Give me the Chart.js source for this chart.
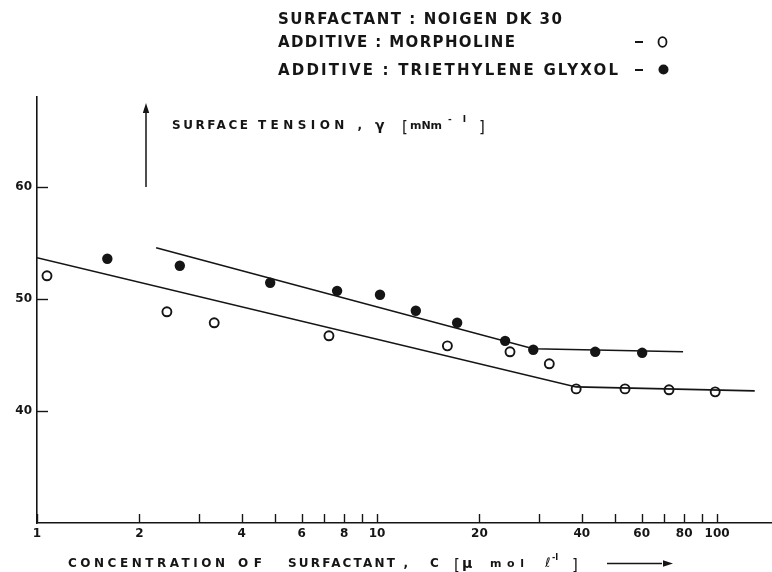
<!DOCTYPE html>
<html>
<head>
<meta charset="utf-8">
<title>Surface tension vs concentration</title>
<script src="https://cdn.jsdelivr.net/npm/chart.js@4.4.1/dist/chart.umd.min.js"></script>
<style>
  html, body { margin: 0; padding: 0; background: #fff; overflow: hidden; }
  #wrap { width: 772px; height: 572px; position: relative; }
  canvas { display: block; }
</style>
</head>
<body>
<div id="wrap"><canvas id="chart"></canvas></div>
<script>
// -- data ----------------------------------------------------------------
// concentration C [umol/l], surface tension gamma [mN/m]
const morphC   = [1.07, 2.41, 3.32, 7.22, 16.1, 24.6, 32.1, 38.5, 53.6, 72.2, 98.7];
const morphG   = [52.05, 48.84, 47.86, 46.70, 45.80, 45.27, 44.20, 41.96, 41.96, 41.88, 41.70];
const triC     = [1.61, 2.63, 4.85, 7.63, 10.2, 13.0, 17.2, 23.8, 28.8, 43.8, 60.2];
const triG     = [53.57, 52.95, 51.43, 50.71, 50.36, 48.93, 47.86, 46.25, 45.45, 45.27, 45.18];

// hand-drawn fit lines (two straight pieces each)
const morphFitC = [1, 38.5, 129];
const morphFitG = [53.66, 42.14, 41.79];
const triFitC   = [2.24, 28.8, 79.4];
const triFitG   = [54.55, 45.54, 45.27];

// axes
const xTickValues = [1, 2, 3, 4, 5, 6, 7, 8, 9, 10, 20, 30, 40, 50, 60, 70, 80, 90, 100];
const xTickLabels = [1, 2, 4, 6, 8, 10, 20, 40, 60, 80, 100];
const yTickValues = [40, 50, 60];

const INK = '#151515';
const FONT = '"DejaVu Sans", "Liberation Sans", sans-serif';

const pts = (xs, ys) => xs.map((x, i) => ({ x, y: ys[i] }));

// text stretched with letter spacing to a given width (stencil lettering)
function spaced(ctx, text, x, y, width) {
  ctx.letterSpacing = '0px';
  const w = ctx.measureText(text).width;
  const sp = text.length > 1 ? (width - w) / (text.length - 1) : 0;
  ctx.letterSpacing = sp + 'px';
  ctx.fillText(text, x, y);
  ctx.letterSpacing = '0px';
}

function arrowHead(ctx, tipX, tipY, dx, dy) {
  // dx,dy: unit direction of the arrow
  const len = 10, half = 3.2;
  const bx = tipX - dx * len, by = tipY - dy * len;
  ctx.beginPath();
  ctx.moveTo(tipX, tipY);
  ctx.lineTo(bx - dy * half, by + dx * half);
  ctx.lineTo(bx + dy * half, by - dx * half);
  ctx.closePath();
  ctx.fill();
}

// -- decorations: inward ticks, header key, axis titles ----------------------
const decorations = {
  id: 'decorations',
  afterDraw(chart) {
    const { ctx, chartArea: a, scales: { x, y } } = chart;
    ctx.save();
    ctx.strokeStyle = INK;
    ctx.fillStyle = INK;
    ctx.lineWidth = 1.4;

    // tick marks pointing into the plot
    xTickValues.forEach(v => {
      const px = Math.round(x.getPixelForValue(v)) + 0.5;
      ctx.beginPath();
      ctx.moveTo(px, a.bottom);
      ctx.lineTo(px, a.bottom - 9);
      ctx.stroke();
    });
    yTickValues.forEach(v => {
      const py = Math.round(y.getPixelForValue(v)) + 0.5;
      ctx.beginPath();
      ctx.moveTo(a.left, py);
      ctx.lineTo(a.left + 11, py);
      ctx.stroke();
    });

    // header key
    ctx.textBaseline = 'alphabetic';
    ctx.textAlign = 'left';
    ctx.font = 'bold 15px ' + FONT;
    spaced(ctx, 'SURFACTANT : NOIGEN DK 30', 278, 24, 284);
    spaced(ctx, 'ADDITIVE : MORPHOLINE', 278, 47, 237);
    spaced(ctx, 'ADDITIVE : TRIETHYLENE GLYXOL', 278, 75, 340);
    ctx.lineWidth = 2;
    [42, 70].forEach(ly => {
      ctx.beginPath();
      ctx.moveTo(635, ly);
      ctx.lineTo(643, ly);
      ctx.stroke();
    });
    ctx.lineWidth = 1.8;
    ctx.beginPath();
    ctx.ellipse(662.5, 42, 4, 4.8, 0, 0, Math.PI * 2);
    ctx.stroke();
    ctx.beginPath();
    ctx.arc(663.5, 69.5, 5, 0, Math.PI * 2);
    ctx.fill();

    // y axis title with arrow
    ctx.lineWidth = 1.5;
    ctx.beginPath();
    ctx.moveTo(146, 187);
    ctx.lineTo(146, 110);
    ctx.stroke();
    arrowHead(ctx, 146, 103, 0, -1);
    ctx.font = 'bold 12px ' + FONT;
    spaced(ctx, 'SURFACE', 172, 129, 76);
    spaced(ctx, 'TENSION ,', 258, 129, 104);
    ctx.font = 'bold 14px ' + FONT;
    ctx.fillText('γ', 375, 130);
    ctx.font = '15px ' + FONT;
    ctx.fillText('[', 402, 132);
    ctx.fillText(']', 479, 132);
    ctx.font = 'bold 11px ' + FONT;
    spaced(ctx, 'mNm', 410, 129, 32);
    ctx.font = 'bold 9px ' + FONT;
    spaced(ctx, '- I', 448, 122, 18);

    // x axis title with arrow
    ctx.font = 'bold 12px ' + FONT;
    spaced(ctx, 'CONCENTRATION', 68, 567, 157);
    spaced(ctx, 'OF', 238, 567, 24);
    spaced(ctx, 'SURFACTANT ,', 288, 567, 120);
    ctx.fillText('C', 430, 567);
    ctx.font = '15px ' + FONT;
    ctx.fillText('[', 454, 570);
    ctx.fillText(']', 572, 570);
    ctx.font = 'bold 14px ' + FONT;
    ctx.fillText('μ', 462, 568);
    ctx.font = 'bold 11px ' + FONT;
    spaced(ctx, 'mol', 490, 567, 34);
    ctx.font = 'italic 13px ' + FONT;
    ctx.fillText('ℓ', 545, 567);
    ctx.font = 'bold 8px ' + FONT;
    ctx.fillText('-I', 552, 560);
    ctx.lineWidth = 1.5;
    ctx.beginPath();
    ctx.moveTo(607, 563.5);
    ctx.lineTo(662, 563.5);
    ctx.stroke();
    arrowHead(ctx, 673, 563.5, 1, 0);

    ctx.restore();
  }
};

new Chart(document.getElementById('chart'), {
  type: 'scatter',
  data: {
    datasets: [
      {
        label: 'Morpholine fit',
        data: pts(morphFitC, morphFitG),
        showLine: true,
        borderColor: INK,
        borderWidth: 1.6,
        pointRadius: 0,
      },
      {
        label: 'Triethylene glyxol fit',
        data: pts(triFitC, triFitG),
        showLine: true,
        borderColor: INK,
        borderWidth: 1.6,
        pointRadius: 0,
      },
      {
        label: 'Morpholine',
        data: pts(morphC, morphG),
        pointRadius: 4.5,
        pointBackgroundColor: '#fff',
        pointBorderColor: INK,
        pointBorderWidth: 1.9,
      },
      {
        label: 'Triethylene glyxol',
        data: pts(triC, triG),
        pointRadius: 5.2,
        pointBackgroundColor: INK,
        pointBorderColor: INK,
        pointBorderWidth: 0,
      },
    ],
  },
  options: {
    responsive: true,
    maintainAspectRatio: false,
    animation: false,
    devicePixelRatio: 1,
    layout: { autoPadding: false, padding: { top: 97, right: 0, bottom: 0, left: 0 } },
    plugins: {
      legend: { display: false },
      tooltip: { enabled: false },
      title: { display: false },
    },
    scales: {
      x: {
        type: 'logarithmic',
        min: 1,
        max: 145,
        afterBuildTicks: s => { s.ticks = xTickValues.map(v => ({ value: v })); },
        afterFit: s => { s.height = 49; },
        grid: { drawOnChartArea: false, drawTicks: false },
        border: { display: true, color: INK, width: 1.6 },
        ticks: {
          autoSkip: false,
          maxRotation: 0,
          padding: 4,
          color: INK,
          font: { family: FONT, size: 12, weight: 'bold' },
          callback: v => (xTickLabels.includes(v) ? String(v) : ''),
        },
      },
      y: {
        type: 'linear',
        min: 30,
        max: 68,
        afterBuildTicks: s => { s.ticks = yTickValues.map(v => ({ value: v })); },
        afterFit: s => { s.width = 37; },
        grid: { drawOnChartArea: false, drawTicks: false },
        border: { display: true, color: INK, width: 1.6 },
        ticks: {
          padding: 5,
          color: INK,
          font: { family: FONT, size: 12, weight: 'bold' },
        },
      },
    },
  },
  plugins: [decorations],
});
</script>
</body>
</html>
